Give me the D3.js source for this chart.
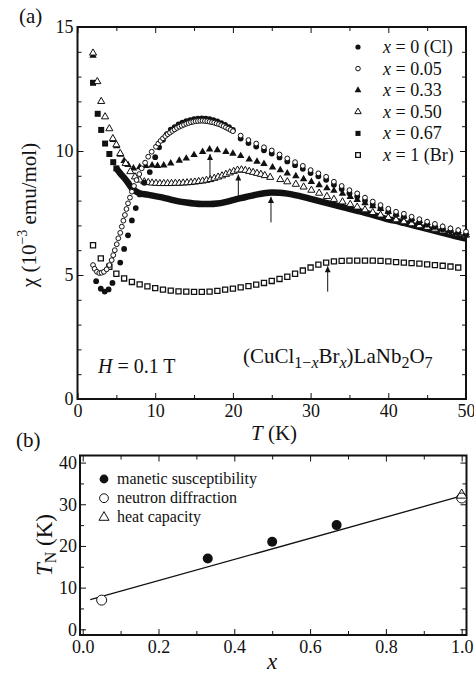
<!DOCTYPE html>
<html>
<head>
<meta charset="utf-8">
<script src="https://cdn.jsdelivr.net/npm/d3@7"></script>
<style>
    body { margin: 0; background: #fff; }
    svg text { font-family: "Liberation Serif", "Times New Roman", serif; fill: #111; }
</style>
</head>
<body>
<svg width="474" height="675"></svg>
<script>
    // ---- panel (a): chi(T) for (CuCl1-xBrx)LaNb2O7, [T (K), chi (1e-3 emu/mol)] ----
    var chiCl = [
        [2.4, 4.75], [3.0, 4.45], [3.5, 4.33], [4.0, 4.42], [4.5, 4.68], [5.5, 5.5], [6.0, 6.05], [6.5, 6.6],
        [7.0, 7.2], [7.5, 7.7], [8.0, 8.25], [8.6, 8.72], [9.3, 9.15], [10.0, 9.75], [10.5, 10.15], [11.0, 10.45],
        [11.5, 10.68], [12.0, 10.86], [12.5, 10.96], [13.0, 11.07], [13.5, 11.14], [14.0, 11.2], [14.5, 11.24],
        [15.0, 11.28], [15.5, 11.3], [16.0, 11.31], [16.5, 11.3], [17.0, 11.28], [17.5, 11.24], [18.0, 11.19],
        [18.5, 11.12], [19.0, 11.05], [19.5, 10.96], [20.0, 10.85], [21, 10.5], [22, 10.32], [23, 10.18],
        [24, 10.03], [25, 9.9], [26, 9.74], [27, 9.58], [28, 9.43], [29, 9.28], [30, 9.11], [31, 8.98], [32, 8.84],
        [33, 8.64], [34, 8.47], [35, 8.3], [36, 8.17], [37, 8.0], [38, 7.84], [39, 7.7], [40, 7.55], [41, 7.43],
        [42, 7.35], [43, 7.23], [44, 7.13], [45, 7.03], [46, 6.94], [47, 6.84], [48, 6.76], [49, 6.69], [50, 6.62]
    ];
    var chi005 = [
        [2.0, 5.4], [2.2, 5.25], [2.5, 5.13], [2.8, 5.08], [3.1, 5.09], [3.4, 5.13], [3.75, 5.23], [4.1, 5.4],
        [4.4, 5.6], [4.6, 5.8], [4.8, 6.0], [5.05, 6.24], [5.25, 6.48], [5.5, 6.7], [5.7, 6.95], [5.9, 7.19],
        [6.1, 7.42], [6.3, 7.66], [6.5, 7.89], [6.75, 8.12], [7.0, 8.36], [7.27, 8.59], [7.6, 8.83], [7.95, 9.07],
        [8.26, 9.3], [8.7, 9.53], [9.1, 9.77], [9.55, 9.97], [10.1, 10.17], [10.4, 10.3], [10.7, 10.41],
        [11.0, 10.51], [11.3, 10.6], [11.6, 10.68], [11.9, 10.74], [12.2, 10.81], [12.5, 10.87], [12.8, 10.93],
        [13.1, 10.98], [13.4, 11.02], [13.7, 11.06], [14.0, 11.1], [14.3, 11.13], [14.6, 11.16], [14.9, 11.18],
        [15.2, 11.2], [15.5, 11.21], [15.8, 11.22], [16.1, 11.22], [16.4, 11.21], [16.7, 11.2], [17.0, 11.18],
        [17.3, 11.16], [17.6, 11.14], [17.9, 11.11], [18.2, 11.08], [18.5, 11.04], [18.8, 11.0], [19.1, 10.95],
        [19.4, 10.9], [19.7, 10.85], [20.0, 10.8], [21, 10.62], [22, 10.44], [23, 10.3], [24, 10.15], [25, 10.02],
        [26, 9.86], [27, 9.7], [28, 9.55], [29, 9.4], [30, 9.23], [31, 9.1], [32, 8.96], [33, 8.76], [34, 8.59],
        [35, 8.42], [36, 8.29], [37, 8.12], [38, 7.96], [39, 7.82], [40, 7.67], [41, 7.55], [42, 7.47], [43, 7.35],
        [44, 7.25], [45, 7.15], [46, 7.06], [47, 6.96], [48, 6.88], [49, 6.81], [50, 6.75]
    ];
    var chi033 = [
        [2.0, 13.85], [4.6, 10.45], [5.05, 10.2], [5.55, 9.85], [6.0, 9.6], [6.5, 9.44], [7.2, 9.3], [8.0, 9.35],
        [8.8, 9.4], [9.6, 9.42], [10.3, 9.4], [11.1, 9.42], [12.0, 9.5], [13.1, 9.61], [14.0, 9.7], [15.0, 9.84],
        [16.1, 9.97], [17.0, 10.07], [18.0, 10.04], [19.1, 9.97], [20.0, 9.9], [21.0, 9.8], [22.1, 9.66],
        [23.1, 9.57], [24.0, 9.48], [25.1, 9.34], [26.1, 9.23], [27.0, 9.1], [28.1, 8.99], [29.1, 8.87],
        [30.1, 8.76], [31.1, 8.63], [32.1, 8.5], [33.0, 8.4], [34.1, 8.28], [35.1, 8.15], [36, 8.03], [37, 7.9],
        [38, 7.78], [39, 7.67], [40, 7.55], [41, 7.45], [42, 7.36], [43, 7.27], [44, 7.18], [45, 7.1], [46, 7.0],
        [47, 6.92], [48, 6.84], [49, 6.77], [50, 6.7]
    ];
    var chi050 = [
        [2.0, 13.95], [2.55, 12.8], [3.05, 12.0], [3.55, 11.38], [4.1, 10.9], [4.55, 10.5], [5.0, 10.25],
        [5.5, 9.9], [6.2, 9.5], [6.8, 9.17], [7.4, 8.96], [8.0, 8.83], [8.6, 8.76], [9.1, 8.73], [9.6, 8.71],
        [10.1, 8.7], [10.6, 8.69], [11.1, 8.69], [11.6, 8.69], [12.1, 8.69], [12.6, 8.7], [13.1, 8.7], [13.6, 8.71],
        [14.1, 8.72], [14.6, 8.73], [15.1, 8.75], [15.6, 8.77], [16.1, 8.79], [16.6, 8.82], [17.1, 8.85],
        [17.6, 8.9], [18.1, 8.95], [18.6, 9.0], [19.1, 9.06], [19.6, 9.12], [20.1, 9.18], [20.6, 9.23],
        [21.1, 9.24], [21.6, 9.22], [22.1, 9.18], [22.6, 9.14], [23.1, 9.1], [23.6, 9.06], [24.1, 9.01],
        [24.8, 8.94], [26.1, 8.85], [27, 8.76], [28.1, 8.66], [29.1, 8.55], [30.1, 8.42], [31.1, 8.3],
        [32.1, 8.17], [33, 8.05], [34.1, 7.95], [35.1, 7.85], [36, 7.74], [37, 7.63], [38, 7.52], [39, 7.42],
        [40, 7.32], [41, 7.23], [42, 7.15], [43, 7.07], [44, 6.99], [45, 6.92], [46, 6.85], [47, 6.78],
        [48, 6.72], [49, 6.66], [50, 6.61]
    ];
    // x = 0.67: separate points below 5 K, then a dense run that reads as a thick band
    var chi067Low = [[2.0, 12.75], [2.6, 11.5], [3.05, 10.85], [3.55, 10.3], [4.1, 9.88], [4.6, 9.55]];
    var chi067 = [
        [5.0, 9.3], [5.5, 9.1], [6.0, 8.92], [6.5, 8.72], [7.0, 8.5], [7.5, 8.38], [8, 8.3], [9, 8.24], [10, 8.18],
        [11, 8.12], [12, 8.04], [13, 7.97], [14, 7.92], [15, 7.88], [16, 7.86], [17, 7.86], [18, 7.88], [19, 7.94],
        [20, 8.02], [21, 8.1], [22, 8.17], [23, 8.24], [24, 8.3], [25, 8.33], [26, 8.32], [27, 8.28], [28, 8.22],
        [29, 8.15], [30, 8.07], [31, 7.99], [32, 7.91], [33, 7.83], [34, 7.75], [35, 7.67], [36, 7.59], [37, 7.51],
        [38, 7.42], [39, 7.33], [40, 7.24], [41, 7.18], [42, 7.1], [43, 7.02], [44, 6.94], [45, 6.86], [46, 6.78],
        [47, 6.7], [48, 6.62], [49, 6.54], [50, 6.47]
    ];
    var chiBr = [
        [2, 6.2], [3, 5.67], [4.1, 5.33], [5, 5.05], [6, 4.86], [7, 4.72], [8, 4.62], [9, 4.54], [10, 4.47],
        [11, 4.41], [12, 4.37], [13, 4.34], [14, 4.33], [15, 4.32], [16, 4.32], [17, 4.33], [18, 4.36], [19, 4.41],
        [20, 4.45], [21, 4.5], [22, 4.55], [23, 4.61], [24, 4.68], [25, 4.76], [26, 4.84], [27, 4.93], [28, 5.05],
        [29, 5.18], [30, 5.3], [31, 5.42], [32, 5.5], [33, 5.55], [34, 5.57], [35, 5.58], [36, 5.58], [37, 5.58],
        [38, 5.58], [39, 5.57], [40, 5.55], [41, 5.52], [42, 5.5], [43, 5.48], [44, 5.46], [45, 5.43], [46, 5.4],
        [47, 5.37], [48, 5.34], [49, 5.3]
    ];
    // arrows marking T_N
    var arrowT = [17.05, 20.7, 24.9, 32.2];
    var arrowTop = [9.88, 9.05, 8.15, 5.35];
    var arrowBottom = [8.9, 8.08, 7.12, 4.33];

    var legendA = ["0 (Cl)", "0.05", "0.33", "0.50", "0.67", "1 (Br)"];

    // ---- panel (b): T_N vs x ----
    var magX = [0.33, 0.5, 0.67];
    var magTN = [17, 21, 25];
    var neutronX = [0.05, 1.0];
    var neutronTN = [7.0, 31.5];
    var heatX = [1.0];
    var heatTN = [32.2];
    var fitX = [0.02, 1.0];
    var fitTN = [7.1, 32.0];
    var legendB = ["manetic susceptibility", "neutron diffraction", "heat capacity"];

    var svg = d3.select("svg");

    // inward ticks on all four sides + heavy frame
    function frame(g, x, y, o) {
        var w = x.range()[1], h = y.range()[0];
        g.append("g").attr("transform", "translate(0," + h + ")")
            .call(d3.axisBottom(x).tickValues(o.xMajor).tickSize(-o.major).tickPadding(5).tickFormat(o.xFmt));
        g.append("g").attr("transform", "translate(0," + h + ")")
            .call(d3.axisBottom(x).tickValues(o.xMinor).tickSize(-o.minor).tickFormat(""));
        g.append("g").call(d3.axisTop(x).tickValues(o.xMajor).tickSize(-o.major).tickFormat(""));
        g.append("g").call(d3.axisTop(x).tickValues(o.xMinor).tickSize(-o.minor).tickFormat(""));
        g.append("g")
            .call(d3.axisLeft(y).tickValues(o.yMajor).tickSize(-o.major).tickPadding(o.yPad).tickFormat(o.yFmt));
        g.append("g").call(d3.axisLeft(y).tickValues(o.yMinor).tickSize(-o.minor).tickFormat(""));
        g.append("g").attr("transform", "translate(" + w + ",0)")
            .call(d3.axisRight(y).tickValues(o.yMajor).tickSize(-o.major).tickFormat(""));
        g.append("g").attr("transform", "translate(" + w + ",0)")
            .call(d3.axisRight(y).tickValues(o.yMinor).tickSize(-o.minor).tickFormat(""));
        g.selectAll(".domain").remove();
        g.selectAll(".tick line").attr("stroke", "#111").attr("stroke-width", 1);
        g.selectAll(".tick text").attr("font-family", "Liberation Serif").attr("font-size", 18).attr("fill", "#111");
        g.append("rect").attr("width", w).attr("height", h)
            .attr("fill", "none").attr("stroke", "#111").attr("stroke-width", 2);
    }

    var tri = d3.symbol().type(d3.symbolTriangle);
    var sq = d3.symbol().type(d3.symbolSquare);

    // ================= panel (a) =================
    var aL = 77.5, aT = 27, aW = 388.5, aH = 372;
    var ga = svg.append("g").attr("transform", "translate(" + aL + "," + aT + ")");
    var xa = d3.scaleLinear().domain([0, 50]).range([0, aW]);
    var ya = d3.scaleLinear().domain([0, 15]).range([aH, 0]);

    frame(ga, xa, ya, {
        xMajor: d3.range(0, 51, 10), xMinor: d3.range(5, 50, 10), xFmt: d3.format("d"),
        yMajor: d3.range(0, 16, 5), yMinor: d3.range(0, 16, 1).filter(function (v) { return v % 5; }),
        yFmt: d3.format("d"), yPad: 4, major: 6, minor: 4
    });

    var plot = ga.append("g");

    // x = 1 (Br) open squares
    plot.selectAll(".br").data(chiBr).enter().append("path")
        .attr("d", sq.size(26)())
        .attr("transform", function (d) { return "translate(" + xa(d[0]) + "," + ya(d[1]) + ")"; })
        .attr("fill", "#fff").attr("stroke", "#111").attr("stroke-width", 1.3);

    // x = 0.67 filled squares + dense band
    plot.append("path").datum(chi067)
        .attr("d", d3.line().x(function (d) { return xa(d[0]); }).y(function (d) { return ya(d[1]); }).curve(d3.curveMonotoneX))
        .attr("fill", "none").attr("stroke", "#111").attr("stroke-width", 6.5);
    plot.selectAll(".s67").data(chi067Low.concat([chi067[0]])).enter().append("path")
        .attr("d", sq.size(36)())
        .attr("transform", function (d) { return "translate(" + xa(d[0]) + "," + ya(d[1]) + ")"; })
        .attr("fill", "#111");

    // x = 0.33 filled triangles
    plot.selectAll(".t33").data(chi033).enter().append("path")
        .attr("d", tri.size(24)())
        .attr("transform", function (d) { return "translate(" + xa(d[0]) + "," + ya(d[1]) + ")"; })
        .attr("fill", "#111");

    // x = 0.50 open triangles
    plot.selectAll(".t50").data(chi050).enter().append("path")
        .attr("d", tri.size(22)())
        .attr("transform", function (d) { return "translate(" + xa(d[0]) + "," + ya(d[1]) + ")"; })
        .attr("fill", "#fff").attr("stroke", "#111").attr("stroke-width", 1);

    // x = 0 filled circles
    plot.selectAll(".cl").data(chiCl).enter().append("circle")
        .attr("cx", function (d) { return xa(d[0]); }).attr("cy", function (d) { return ya(d[1]); })
        .attr("r", 2.9).attr("fill", "#111");

    // x = 0.05 open circles
    plot.selectAll(".c05").data(chi005).enter().append("circle")
        .attr("cx", function (d) { return xa(d[0]); }).attr("cy", function (d) { return ya(d[1]); })
        .attr("r", 2.4).attr("fill", "#fff").attr("stroke", "#111").attr("stroke-width", 1);

    // arrows
    svg.append("defs").append("marker")
        .attr("id", "head").attr("viewBox", "0 0 10 10").attr("refX", 10).attr("refY", 5)
        .attr("markerWidth", 9).attr("markerHeight", 6).attr("markerUnits", "userSpaceOnUse")
        .attr("orient", "auto")
        .append("path").attr("d", "M0,0L10,5L0,10Z").attr("fill", "#111");
    plot.selectAll(".arr").data(arrowT).enter().append("line")
        .attr("x1", function (d) { return xa(d); }).attr("x2", function (d) { return xa(d); })
        .attr("y1", function (d, i) { return ya(arrowBottom[i]); })
        .attr("y2", function (d, i) { return ya(arrowTop[i]); })
        .attr("stroke", "#111").attr("stroke-width", 1).attr("marker-end", "url(#head)");

    // legend (a)
    var lg = svg.append("g");
    legendA.forEach(function (t, i) {
        var cy = 47 + i * 21.6, mx = 358;
        if (i === 0) lg.append("circle").attr("cx", mx).attr("cy", cy).attr("r", 2.6).attr("fill", "#111");
        if (i === 1) lg.append("circle").attr("cx", mx).attr("cy", cy).attr("r", 2.3)
            .attr("fill", "#fff").attr("stroke", "#111");
        if (i === 2) lg.append("path").attr("d", tri.size(20)()).attr("transform", "translate(" + mx + "," + cy + ")").attr("fill", "#111");
        if (i === 3) lg.append("path").attr("d", tri.size(18)()).attr("transform", "translate(" + mx + "," + cy + ")")
            .attr("fill", "#fff").attr("stroke", "#111");
        if (i === 4) lg.append("path").attr("d", sq.size(26)()).attr("transform", "translate(" + mx + "," + cy + ")").attr("fill", "#111");
        if (i === 5) lg.append("path").attr("d", sq.size(22)()).attr("transform", "translate(" + mx + "," + cy + ")")
            .attr("fill", "#fff").attr("stroke", "#111").attr("stroke-width", 1.3);
        var tx = lg.append("text").attr("x", 383).attr("y", cy + 6).attr("font-size", 18);
        tx.append("tspan").attr("font-style", "italic").text("x");
        tx.append("tspan").text(" = " + t);
    });

    // labels (a)
    svg.append("text").attr("x", 19).attr("y", 23).attr("font-size", 21).text("(a)");
    var yl = svg.append("text").attr("transform", "translate(36,215) rotate(-90)")
        .attr("text-anchor", "middle").attr("font-size", 21);
    yl.append("tspan").text("\u03c7 (10");
    yl.append("tspan").attr("font-size", 14).attr("dy", -9).text("\u22123");
    yl.append("tspan").attr("dy", 9).text("  emu/mol)");

    var xl = svg.append("text").attr("x", 274).attr("y", 440).attr("text-anchor", "middle").attr("font-size", 21);
    xl.append("tspan").attr("font-style", "italic").text("T");
    xl.append("tspan").text("  (K)");

    var hl = svg.append("text").attr("x", 98).attr("y", 373).attr("font-size", 20);
    hl.append("tspan").attr("font-style", "italic").text("H");
    hl.append("tspan").text(" = 0.1 T");

    var fm = svg.append("text").attr("x", 243).attr("y", 363).attr("font-size", 21);
    fm.append("tspan").text("(CuCl");
    fm.append("tspan").attr("font-size", 16).attr("dy", 5).text("1\u2212");
    fm.append("tspan").attr("font-size", 16).attr("font-style", "italic").text("x");
    fm.append("tspan").attr("dy", -5).text("Br");
    fm.append("tspan").attr("font-size", 16).attr("font-style", "italic").attr("dy", 5).text("x");
    fm.append("tspan").attr("dy", -5).text(")LaNb");
    fm.append("tspan").attr("font-size", 16).attr("dy", 5).text("2");
    fm.append("tspan").attr("dy", -5).text("O");
    fm.append("tspan").attr("font-size", 16).attr("dy", 5).text("7");

    // ================= panel (b) =================
    var bL = 80, bT = 455.5, bW = 386.5, bH = 179.5;
    var gb = svg.append("g").attr("transform", "translate(" + bL + "," + bT + ")");
    var xb = d3.scaleLinear().domain([-0.0071, 1.0127]).range([0, bW]);
    var yb = d3.scaleLinear().domain([-1.37, 41.7]).range([bH, 0]);

    frame(gb, xb, yb, {
        xMajor: [0, 0.2, 0.4, 0.6, 0.8, 1.0], xMinor: [0.1, 0.3, 0.5, 0.7, 0.9], xFmt: d3.format(".1f"),
        yMajor: [0, 10, 20, 30, 40], yMinor: [5, 15, 25, 35], yFmt: d3.format("d"), yPad: 3, major: 6, minor: 4
    });

    gb.append("path").datum(d3.zip(fitX, fitTN))
        .attr("d", d3.line().x(function (d) { return xb(d[0]); }).y(function (d) { return yb(d[1]); }))
        .attr("stroke", "#111").attr("stroke-width", 1.3).attr("fill", "none");

    gb.selectAll(".mag").data(d3.zip(magX, magTN)).enter().append("circle")
        .attr("cx", function (d) { return xb(d[0]); }).attr("cy", function (d) { return yb(d[1]); })
        .attr("r", 5).attr("fill", "#111");
    gb.selectAll(".neu").data(d3.zip(neutronX, neutronTN)).enter().append("circle")
        .attr("cx", function (d) { return xb(d[0]); }).attr("cy", function (d) { return yb(d[1]); })
        .attr("r", 5).attr("fill", "#fff").attr("stroke", "#111").attr("stroke-width", 1);
    gb.selectAll(".heat").data(d3.zip(heatX, heatTN)).enter().append("path")
        .attr("d", tri.size(48)())
        .attr("transform", function (d) { return "translate(" + xb(d[0]) + "," + yb(d[1]) + ")"; })
        .attr("fill", "none").attr("stroke", "#111").attr("stroke-width", 1);

    // legend (b)
    legendB.forEach(function (t, i) {
        var cy = 479 + i * 19.2, mx = 104;
        if (i === 0) svg.append("circle").attr("cx", mx).attr("cy", cy).attr("r", 4.4).attr("fill", "#111");
        if (i === 1) svg.append("circle").attr("cx", mx).attr("cy", cy).attr("r", 4.4)
            .attr("fill", "#fff").attr("stroke", "#111");
        if (i === 2) svg.append("path").attr("d", tri.size(44)()).attr("transform", "translate(" + mx + "," + cy + ")")
            .attr("fill", "none").attr("stroke", "#111");
        svg.append("text").attr("x", 117).attr("y", cy + 5).attr("font-size", 16).text(t);
    });

    svg.append("text").attr("x", 16).attr("y", 447).attr("font-size", 21).text("(b)");
    var ylb = svg.append("text").attr("transform", "translate(52,545) rotate(-90)")
        .attr("text-anchor", "middle").attr("font-size", 23);
    ylb.append("tspan").attr("font-style", "italic").text("T");
    ylb.append("tspan").attr("font-size", 16).attr("dy", 4).text("N");
    ylb.append("tspan").attr("dy", -4).text(" (K)");
    svg.append("text").attr("x", 272).attr("y", 669).attr("text-anchor", "middle")
        .attr("font-size", 23).attr("font-style", "italic").text("x");
</script>
</body>
</html>
